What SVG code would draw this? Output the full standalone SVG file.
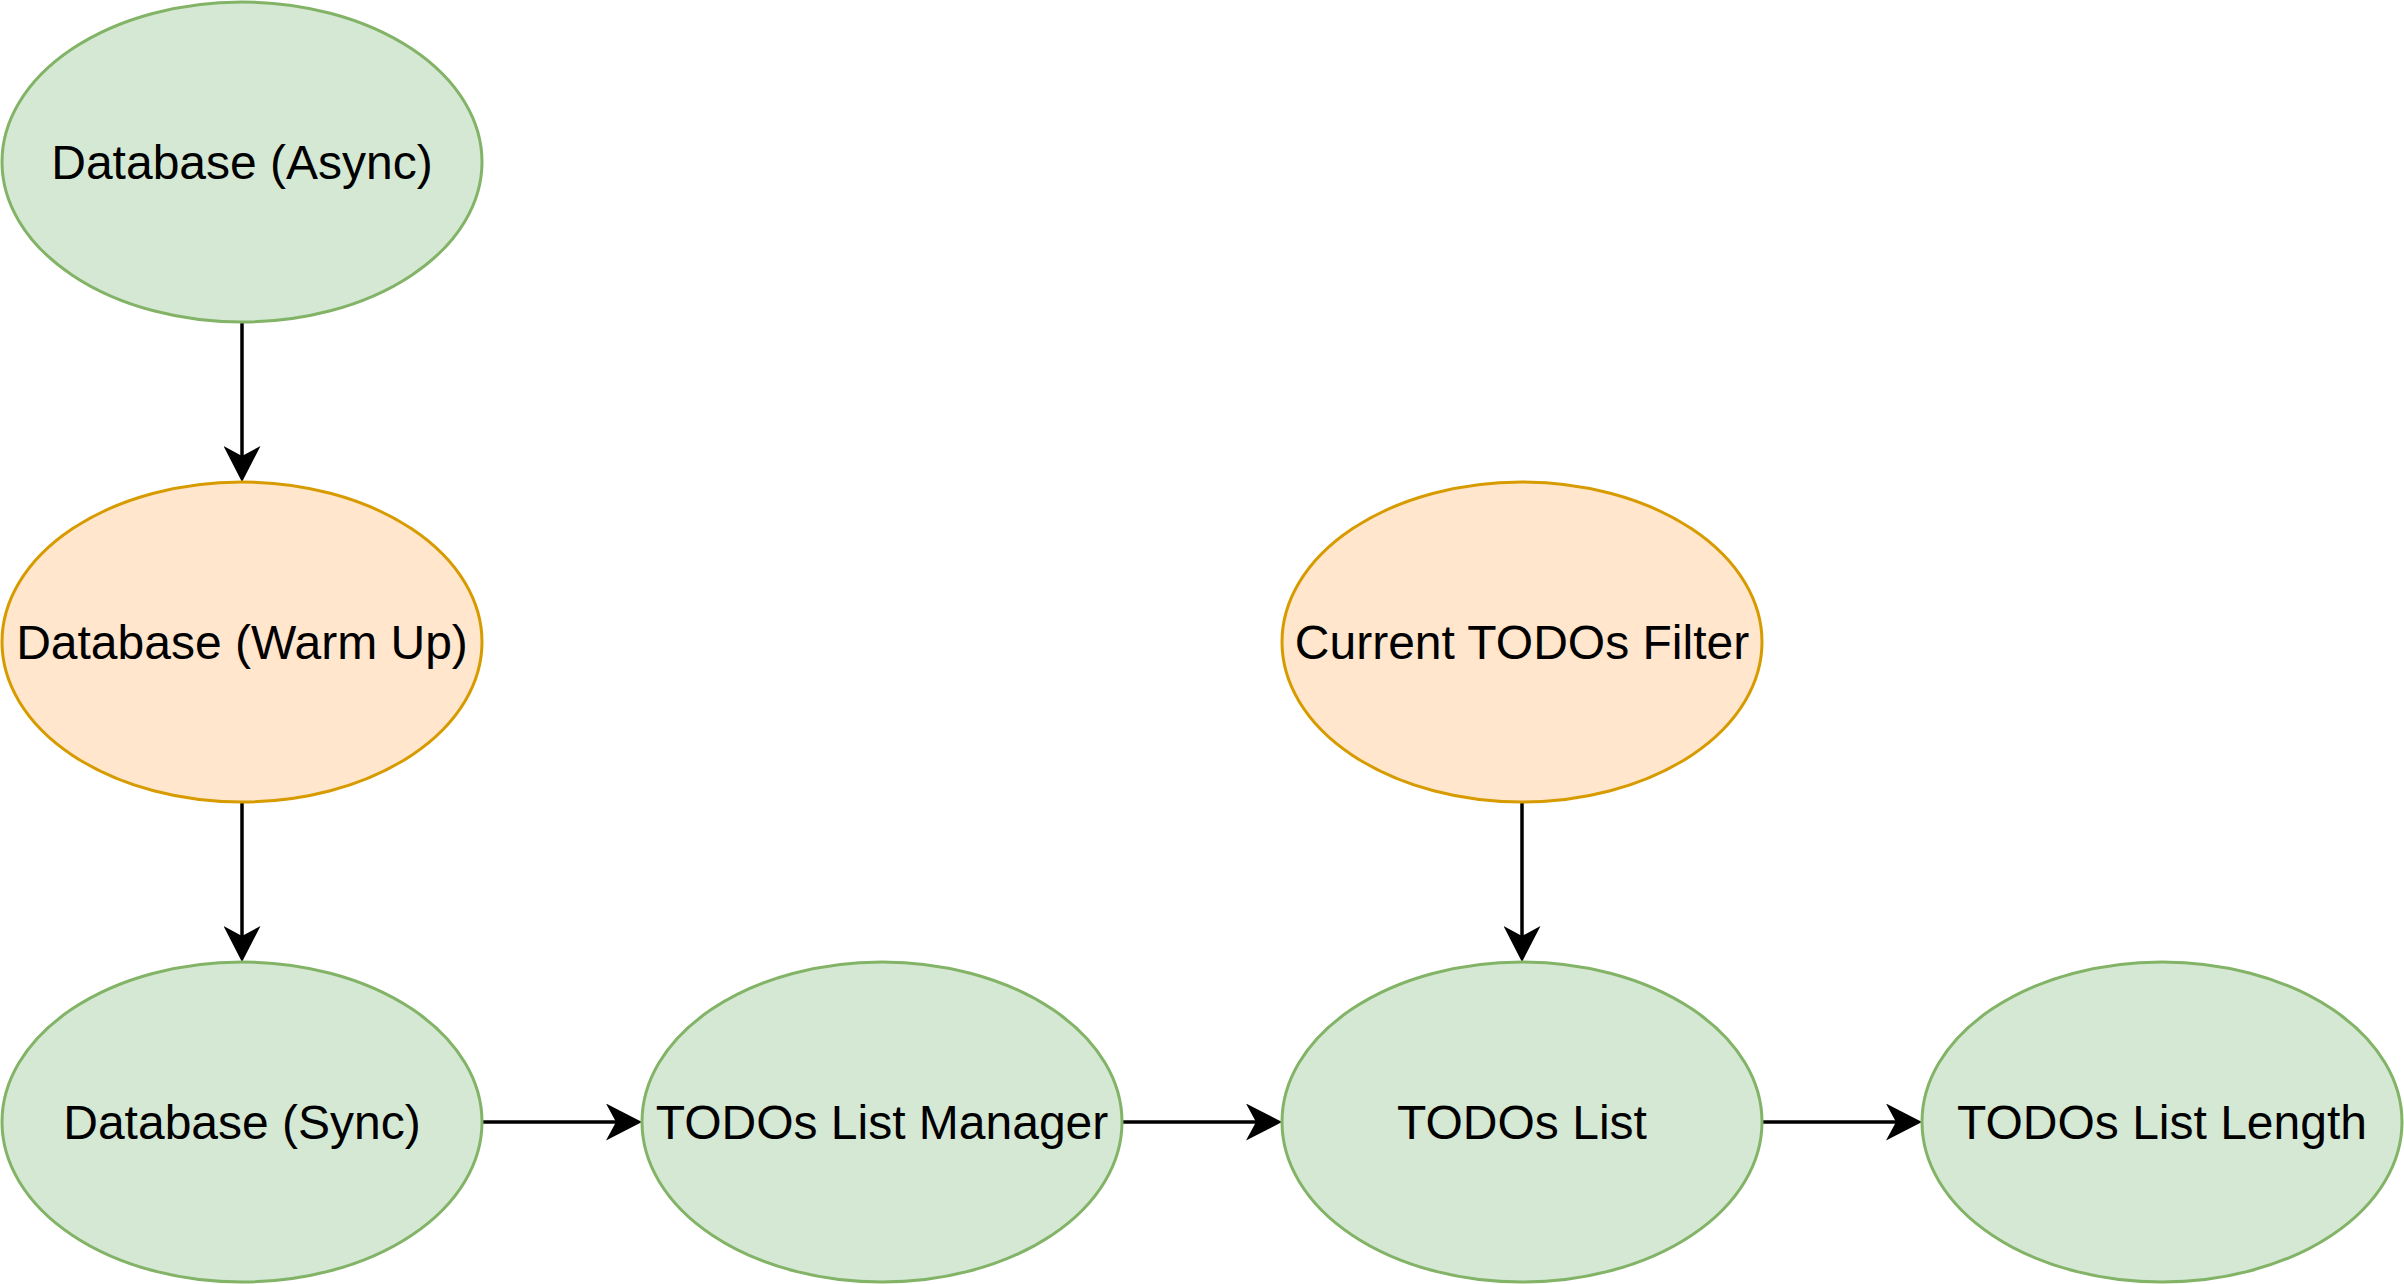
<svg xmlns="http://www.w3.org/2000/svg" width="2404" height="1284" viewBox="0 0 2404 1284">
<style>
.green{fill:#d5e8d4;stroke:#82b366;stroke-width:3}
.orange{fill:#ffe6cc;stroke:#d79b00;stroke-width:3}
.lbl{font-family:"Liberation Sans",Arial,Helvetica,sans-serif;font-size:48px;fill:#000;text-anchor:middle}
.edge{stroke:#000;stroke-width:3.5;fill:none}
</style>
<defs>
<marker id="arr" markerUnits="userSpaceOnUse" viewBox="0 0 36 37" markerWidth="36" markerHeight="37" refX="10" refY="18.5" orient="auto">
<path d="M36,18.5 L0,0 L10,18.5 L0,37 Z" fill="#000"/>
</marker>
</defs>
<rect width="2404" height="1284" fill="#fff"/>
<g id="connectors">
<path class="edge" d="M242,322 L242,456" marker-end="url(#arr)"/>
<path class="edge" d="M242,802 L242,936" marker-end="url(#arr)"/>
<path class="edge" d="M1522,802 L1522,936" marker-end="url(#arr)"/>
<path class="edge" d="M482,1122 L616,1122" marker-end="url(#arr)"/>
<path class="edge" d="M1122,1122 L1256,1122" marker-end="url(#arr)"/>
<path class="edge" d="M1762,1122 L1896,1122" marker-end="url(#arr)"/>
</g>
<g id="db-async"><ellipse class="green" cx="242" cy="162" rx="240" ry="160"/><text class="lbl" x="242" y="179">Database (Async)</text></g>
<g id="db-warmup"><ellipse class="orange" cx="242" cy="642" rx="240" ry="160"/><text class="lbl" x="242" y="659">Database (Warm Up)</text></g>
<g id="db-sync"><ellipse class="green" cx="242" cy="1122" rx="240" ry="160"/><text class="lbl" x="242" y="1139">Database (Sync)</text></g>
<g id="todos-manager"><ellipse class="green" cx="882" cy="1122" rx="240" ry="160"/><text class="lbl" x="882" y="1139">TODOs List Manager</text></g>
<g id="todos-filter"><ellipse class="orange" cx="1522" cy="642" rx="240" ry="160"/><text class="lbl" x="1522" y="659">Current TODOs Filter</text></g>
<g id="todos-list"><ellipse class="green" cx="1522" cy="1122" rx="240" ry="160"/><text class="lbl" x="1522" y="1139">TODOs List</text></g>
<g id="todos-length"><ellipse class="green" cx="2162" cy="1122" rx="240" ry="160"/><text class="lbl" x="2162" y="1139">TODOs List Length</text></g>
</svg>
